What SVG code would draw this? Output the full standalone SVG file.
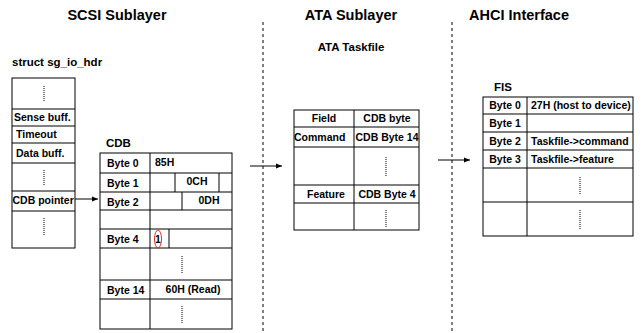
<svg xmlns="http://www.w3.org/2000/svg" width="642" height="333" viewBox="0 0 642 333">
<defs>
<marker id="ah" viewBox="0 0 10 10" refX="10" refY="5" markerWidth="6" markerHeight="6" orient="auto" markerUnits="userSpaceOnUse">
<path d="M0,1 L10,5 L0,9 Z" fill="#000"/>
</marker>
<style>
.t{font-family:"Liberation Sans",Arial,sans-serif;font-weight:bold;fill:#000}
.title{font-size:14.5px;text-anchor:middle}
.sub{font-size:11.5px}
.c{font-size:10.5px}
.m{text-anchor:middle}
.box{fill:#fff;stroke:#000;stroke-width:1}
.ln{stroke:#000;stroke-width:1;fill:none}
.dot{stroke:#000;stroke-width:1;stroke-dasharray:1 1;fill:none}
.sep{stroke:#000;stroke-width:1;stroke-dasharray:3 3;fill:none}
.conn{stroke:#000;stroke-width:1;fill:none;marker-end:url(#ah)}
</style>
</defs>
<rect width="642" height="333" fill="#fff"/>

<g id="titles">
<text class="t title" x="117" y="20">SCSI Sublayer</text>
<text class="t title" x="351" y="20">ATA Sublayer</text>
<text class="t title" x="519" y="20">AHCI Interface</text>
</g>

<g id="separators">
<line class="sep" x1="263" y1="22" x2="263" y2="333"/>
<line class="sep" x1="452" y1="22" x2="452" y2="333"/>
</g>

<g id="sg_io_hdr">
<text class="t sub" x="12" y="66">struct sg_io_hdr</text>
<rect class="box" x="12" y="78" width="63" height="170"/>
<line class="ln" x1="12" y1="109" x2="75" y2="109"/>
<line class="ln" x1="12" y1="126" x2="75" y2="126"/>
<line class="ln" x1="12" y1="143" x2="75" y2="143"/>
<line class="ln" x1="12" y1="163" x2="75" y2="163"/>
<line class="ln" x1="12" y1="191" x2="75" y2="191"/>
<line class="ln" x1="12" y1="211" x2="75" y2="211"/>
<line class="dot" x1="44" y1="86" x2="44" y2="102"/>
<text class="t c" x="14" y="121">Sense buff.</text>
<text class="t c" x="16" y="138">Timeout</text>
<text class="t c" x="16" y="157">Data buff.</text>
<line class="dot" x1="44" y1="170" x2="44" y2="186"/>
<text class="t c" x="12.5" y="204">CDB pointer</text>
<line class="dot" x1="44" y1="218" x2="44" y2="235"/>
</g>

<g id="cdb">
<text class="t sub" x="106" y="147">CDB</text>
<rect class="box" x="100" y="153" width="132" height="176"/>
<line class="ln" x1="150" y1="153" x2="150" y2="329"/>
<line class="ln" x1="100" y1="173" x2="232" y2="173"/>
<line class="ln" x1="100" y1="192" x2="232" y2="192"/>
<line class="ln" x1="100" y1="210" x2="232" y2="210"/>
<line class="ln" x1="100" y1="229" x2="232" y2="229"/>
<line class="ln" x1="100" y1="248" x2="232" y2="248"/>
<line class="ln" x1="100" y1="280" x2="232" y2="280"/>
<line class="ln" x1="100" y1="299" x2="232" y2="299"/>
<line class="ln" x1="175" y1="173" x2="175" y2="192"/>
<line class="ln" x1="219" y1="173" x2="219" y2="192"/>
<line class="ln" x1="182" y1="192" x2="182" y2="210"/>
<line class="ln" x1="169" y1="229" x2="169" y2="248"/>
<text class="t c" x="107" y="167">Byte 0</text>
<text class="t c" x="155" y="166">85H</text>
<text class="t c" x="107" y="187">Byte 1</text>
<text class="t c m" x="197" y="185">0CH</text>
<text class="t c" x="107" y="206">Byte 2</text>
<text class="t c m" x="209" y="204">0DH</text>
<text class="t c" x="107" y="243">Byte 4</text>
<text class="t c" x="155" y="243">1</text>
<ellipse cx="158" cy="239" rx="3.5" ry="9" fill="none" stroke="#e0301e" stroke-width="1"/>
<line class="dot" x1="182" y1="256" x2="182" y2="273"/>
<text class="t c" x="107" y="294">Byte 14</text>
<text class="t c m" x="193" y="293">60H (Read)</text>
<line class="dot" x1="182" y1="306" x2="182" y2="324"/>
</g>

<g id="ata_taskfile">
<text class="t sub m" x="351" y="51">ATA Taskfile</text>
<rect class="box" x="294" y="110" width="125" height="120"/>
<line class="ln" x1="354" y1="110" x2="354" y2="230"/>
<line class="ln" x1="294" y1="127" x2="419" y2="127"/>
<line class="ln" x1="294" y1="147" x2="419" y2="147"/>
<line class="ln" x1="294" y1="185" x2="419" y2="185"/>
<line class="ln" x1="294" y1="203" x2="419" y2="203"/>
<text class="t c m" x="324" y="122">Field</text>
<text class="t c m" x="387" y="122">CDB byte</text>
<text class="t c" x="294" y="141">Command</text>
<text class="t c m" x="387" y="141">CDB Byte 14</text>
<line class="dot" x1="386" y1="157" x2="386" y2="177"/>
<text class="t c m" x="326" y="198">Feature</text>
<text class="t c m" x="387" y="198">CDB Byte 4</text>
<line class="dot" x1="386" y1="210" x2="386" y2="228"/>
</g>

<g id="fis">
<text class="t sub m" x="503" y="91">FIS</text>
<rect class="box" x="483" y="97" width="150" height="139"/>
<line class="ln" x1="527" y1="97" x2="527" y2="236"/>
<line class="ln" x1="483" y1="114" x2="633" y2="114"/>
<line class="ln" x1="483" y1="132" x2="633" y2="132"/>
<line class="ln" x1="483" y1="150" x2="633" y2="150"/>
<line class="ln" x1="483" y1="168" x2="633" y2="168"/>
<line class="ln" x1="483" y1="202" x2="633" y2="202"/>
<text class="t c m" x="505" y="109">Byte 0</text>
<text class="t c" x="531" y="109">27H (host to device)</text>
<text class="t c m" x="505" y="127">Byte 1</text>
<text class="t c m" x="505" y="145">Byte 2</text>
<text class="t c" x="531" y="145">Taskfile-&gt;command</text>
<text class="t c m" x="505" y="163">Byte 3</text>
<text class="t c" x="531" y="163">Taskfile-&gt;feature</text>
<line class="dot" x1="580" y1="177" x2="580" y2="195"/>
<line class="dot" x1="580" y1="210" x2="580" y2="229"/>
</g>

<g id="connectors">
<line class="conn" x1="75" y1="199" x2="98" y2="199"/>
<line class="conn" x1="250" y1="166" x2="282" y2="166"/>
<line class="conn" x1="438" y1="160" x2="470" y2="160"/>
</g>
</svg>
